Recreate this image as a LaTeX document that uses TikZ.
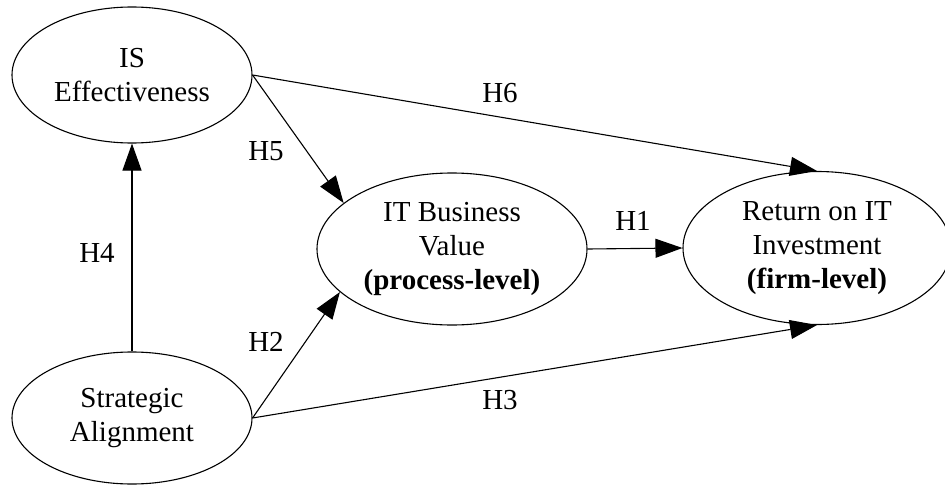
\documentclass[tikz,border=0pt]{standalone}
\usepackage{fontspec}
\setmainfont{Liberation Serif}
\usetikzlibrary{shapes.geometric,arrows.meta}
\tikzset{
  construct/.style={ellipse, draw, line width=1.1pt, inner sep=0pt, align=center,
    font=\fontsize{29}{34}\selectfont},
  hyp/.style={-{Triangle[length=27pt,width=19pt]}, line width=1.1pt, shorten >=0pt},
  hlabel/.style={font=\fontsize{29}{34}\selectfont, inner sep=0pt}
}
\begin{document}
\begin{tikzpicture}[x=1pt,y=-1pt]
\useasboundingbox (0,0) rectangle (945,487);
\node[construct, minimum width=240pt, minimum height=136pt] (is) at (132,75) {IS\\Effectiveness};
\node[construct, minimum width=240pt, minimum height=132pt] (sa) at (132,418) {Strategic\\Alignment};
\node[construct, minimum width=270pt, minimum height=152pt] (bv) at (452,249) {IT Business\\Value\\\textbf{(process-level)}};
\node[construct, minimum width=268pt, minimum height=153pt] (ret) at (817,248) {Return on IT\\Investment\\\textbf{(firm-level)}};

\draw[hyp] (sa.north) -- (is.south);
\draw[hyp] (is.east) -- (bv.157);
\draw[hyp] (sa.east) -- (bv.201);
\draw[hyp] (is.east) -- (ret.north);
\draw[hyp] (sa.east) -- (ret.south);
\draw[hyp] (bv.east) -- (ret.west);

\node[hlabel] (h4) at (97,253) {H4};
\node[hlabel] (h5) at (266,151) {H5};
\node[hlabel] (h2) at (266,342) {H2};
\node[hlabel] (h6) at (500,93) {H6};
\node[hlabel] (h3) at (500,400) {H3};
\node[hlabel] (h1) at (633,221) {H1};
\end{tikzpicture}
\end{document}
